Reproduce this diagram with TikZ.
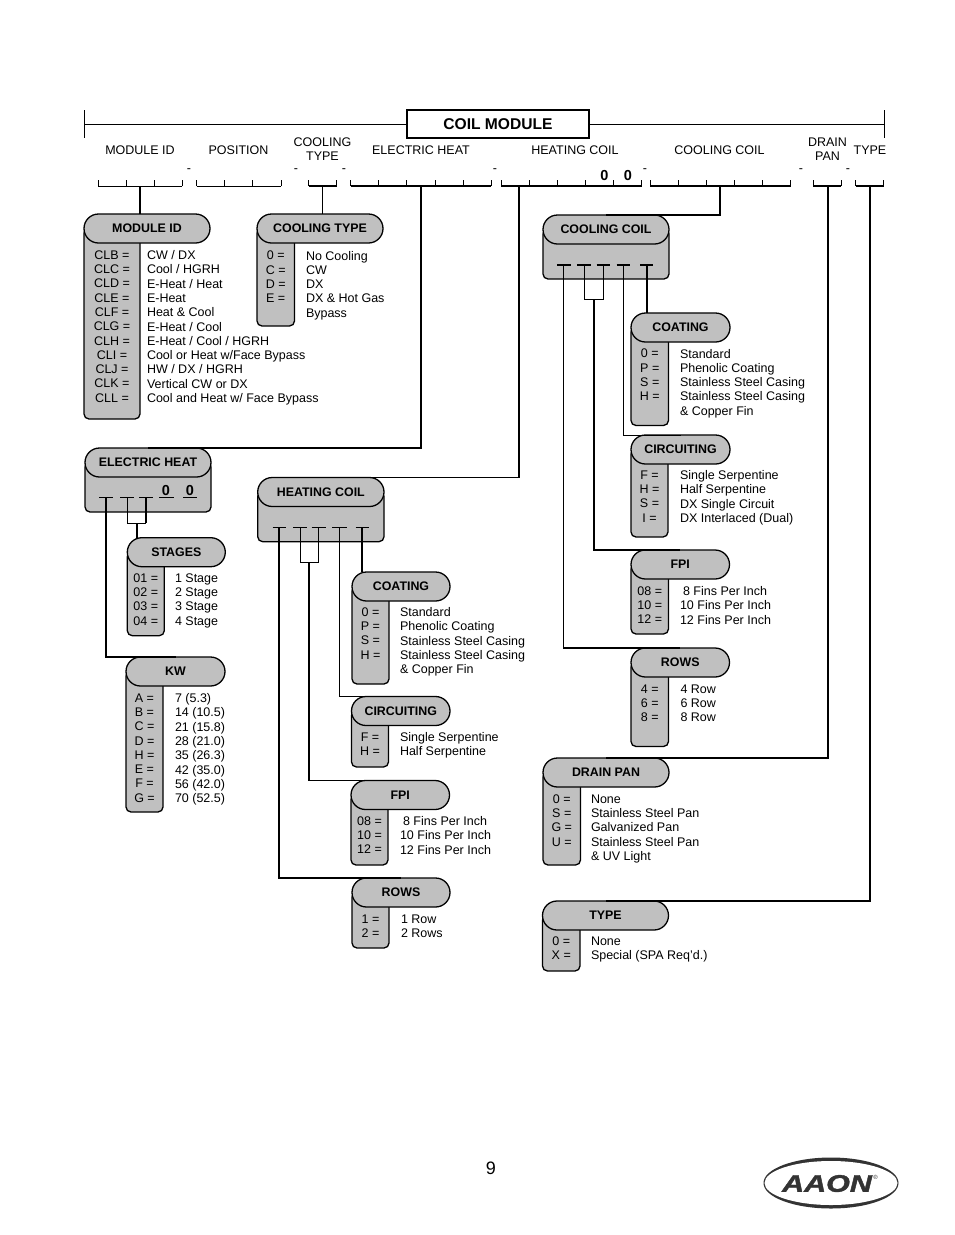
\documentclass[tikz,border=0pt]{standalone}
\usepackage{fontspec}
\setmainfont{Liberation Sans}
\usetikzlibrary{shapes.misc,calc}
\definecolor{pgray}{HTML}{C0C0C0}
\definecolor{logoink}{HTML}{333333}
\tikzset{
  x=1pt,y=-1pt,
  pillbox/.style={rounded rectangle,draw=black,fill=pgray,line width=1.3pt,inner sep=0pt,outer sep=0pt,
    font=\fontsize{12.4}{14}\bfseries\selectfont,anchor=center},
  bodybox/.style={rectangle,rounded corners=5pt,draw=black,fill=pgray,line width=1.3pt,inner sep=0pt,outer sep=0pt,anchor=north west},
  keytext/.style={inner sep=0pt,outer sep=0pt,align=center,anchor=north,font=\fontsize{12.5}{14.3}\selectfont},
  valtext/.style={inner sep=0pt,outer sep=0pt,align=left,anchor=north west,font=\fontsize{12.5}{14.3}\selectfont},
  toplabel/.style={inner sep=0pt,outer sep=0pt,align=center,font=\fontsize{12.5}{14.3}\selectfont},
  zerotext/.style={inner sep=0pt,outer sep=0pt,font=\fontsize{14.5}{16}\bfseries\selectfont},
  thinline/.style={line width=0.9pt,black},
  heavyline/.style={line width=1.7pt,black},
}
% id, x, y, pill width, body width, body bottom, title
\newcommand{\pillbody}[7]{%
  \node[bodybox,minimum width=#5pt,minimum height={(#6-#3-14)*1pt}] (#1-body) at (#2,#3+14) {};
  \node[pillbox,minimum width=#4pt,minimum height=29pt] (#1) at (#2+#4/2,#3+14.5) {#7};
}
% id, y of first line, x of values, keys, values
\newcommand{\codes}[5]{%
  \node[keytext] (#1-keys) at (#1-body.north |- 0,#2-4.5) {#4};
  \node[valtext] (#1-vals) at (#3,#2-4.5) {#5};
}
% x start, segments, style for the base line
\newcommand{\bracketline}[3]{%
  \draw[#3] (#1,186) -- ++(#2*28.1,0);
  \foreach \k in {0,...,#2} {\draw[thinline] (#1+\k*28.1,186) -- ++(0,-6.5);}
}
\begin{document}
\begin{tikzpicture}
\useasboundingbox (0,0) rectangle (954,1235);
\fill[white] (0,0) rectangle (954,1235);

% title bar
\node[draw=black,line width=2pt,minimum width=182pt,minimum height=28pt,inner sep=0pt,outer sep=0pt,
  font=\fontsize{15.6}{18}\bfseries\selectfont] (title) at (498,124) {COIL MODULE};
\coordinate (barL) at (84,124);
\coordinate (barR) at (884,124);
\draw[thinline] (barL) -- (title.west);
\draw[thinline] (title.east) -- (barR);
\draw[thinline] ($(barL)+(0,-14)$) -- ($(barL)+(0,14)$);
\draw[thinline] ($(barR)+(0,-14)$) -- ($(barR)+(0,14)$);

% field labels
\node[toplabel] (lab1) at (140,150) {MODULE ID};
\node[toplabel] (lab2) at (238.5,150) {POSITION};
\node[toplabel] (lab3) at (322.5,149) {COOLING\\TYPE};
\node[toplabel] (lab4) at (421,150) {ELECTRIC HEAT};
\node[toplabel] (lab5) at (575,150) {HEATING COIL};
\node[toplabel] (lab6) at (719.5,150) {COOLING COIL};
\node[toplabel] (lab7) at (827.5,149) {DRAIN\\PAN};
\node[toplabel] (lab8) at (870,150) {TYPE};

\foreach \nm/\xx in {d1/189,d2/296,d3/344,d4/495,d5/645,d6/801,d7/848}
  \node[toplabel] (\nm) at (\xx,171) {-};

% field brackets
\bracketline{98}{3}{thinline}
\bracketline{196.7}{3}{thinline}
\bracketline{308.7}{1}{heavyline}
\bracketline{350.7}{5}{heavyline}
\bracketline{501}{5}{heavyline}
\bracketline{650}{5}{heavyline}
\bracketline{813}{1}{heavyline}
\bracketline{855.8}{1}{heavyline}
\node[zerotext] (hz1) at (604.5,176) {0};
\node[zerotext] (hz2) at (628,176) {0};

% stem coordinates
\coordinate (sMod) at (140,186);
\coordinate (sCT) at (322.7,186);
\coordinate (sEH) at (421,186);
\coordinate (sHC) at (519,186);
\coordinate (sCC) at (720,186);
\coordinate (sDP) at (828,186);
\coordinate (sTY) at (870,186);

\pillbody{mod}{84}{214}{126}{56}{419}{MODULE ID}
\codes{mod}{255}{147}{CLB =\\CLC =\\CLD =\\CLE =\\CLF =\\CLG =\\CLH =\\CLI =\\CLJ =\\CLK =\\CLL =}
 {CW / DX\\Cool / HGRH\\E-Heat / Heat\\E-Heat\\Heat \& Cool\\E-Heat / Cool\\E-Heat / Cool / HGRH\\Cool or Heat w/Face Bypass\\HW / DX / HGRH\\Vertical CW or DX\\Cool and Heat w/ Face Bypass}
\draw[heavyline] (sMod) -- (mod.north -| sMod);

\pillbody{ct}{257}{214}{126}{37.5}{326}{COOLING TYPE}
\codes{ct}{255.5}{306}{0 =\\C =\\D =\\E =}{No Cooling\\CW\\DX\\DX \& Hot Gas\\Bypass}
\draw[thinline] (sCT) -- (ct.north -| sCT);

% electric heat
\pillbody{eh}{85}{448}{126}{126}{512}{ELECTRIC HEAT}
\draw[thinline,line width=1.2pt] (99.3,497.7) -- (112.7,497.7) (120,497.7) -- (134,497.7) (139.3,497.7) -- (153.3,497.7) (159.3,497.7) -- (174,497.7) (183.3,497.7) -- (197.3,497.7);
\node[zerotext] (ehz1) at (166,490) {0};
\node[zerotext] (ehz2) at (190,490) {0};
\coordinate (ehA) at (106,497.7);
\coordinate (ehB) at (127.3,497.7);
\coordinate (ehC) at (146,497.7);
\coordinate (ehU) at (136.7,523.3);

\pillbody{st}{127.3}{537.7}{98}{37}{635.7}{STAGES}
\codes{st}{578}{175}{01 =\\02 =\\03 =\\04 =}{1 Stage\\2 Stage\\3 Stage\\4 Stage}
\pillbody{kw}{126}{657}{99}{37}{812}{KW}
\codes{kw}{698}{175}{A =\\B =\\C =\\D =\\H =\\E =\\F =\\G =}{7 (5.3)\\14 (10.5)\\21 (15.8)\\28 (21.0)\\35 (26.3)\\42 (35.0)\\56 (42.0)\\70 (52.5)}
\draw[heavyline] (sEH) |- (eh.north);
\draw[thinline] (ehB) -- (ehB |- ehU) -- (ehC |- ehU);
\draw[heavyline] (ehC) -- (ehC |- ehU);
\draw[heavyline] (ehU) -- (st.north -| ehU);
\draw[heavyline] (ehA) |- (kw.north);

% heating coil
\pillbody{hc}{257.7}{477.5}{126.3}{126.3}{541.7}{HEATING COIL}
\draw[thinline,line width=1.2pt] (272.7,527.7) -- (286,527.7) (293.3,527.7) -- (306.7,527.7) (311.7,527.7) -- (325.7,527.7) (332.3,527.7) -- (346.7,527.7) (355.7,527.7) -- (369,527.7);
\coordinate (hcA) at (279.3,527.7);
\coordinate (hcB) at (300,527.7);
\coordinate (hcC) at (318.7,527.7);
\coordinate (hcD) at (339.3,527.7);
\coordinate (hcE) at (362.3,527.7);
\coordinate (hcU) at (309,562.3);

\pillbody{hco}{352}{572}{98}{37}{684}{COATING}
\codes{hco}{612}{400}{0 =\\P =\\S =\\H =}{Standard\\Phenolic Coating\\Stainless Steel Casing\\Stainless Steel Casing\\\& Copper Fin}
\pillbody{hci}{351.5}{696.5}{98.5}{37}{767}{CIRCUITING}
\codes{hci}{737}{400}{F =\\H =}{Single Serpentine\\Half Serpentine}
\pillbody{hfp}{351}{780.5}{98.5}{37}{865}{FPI}
\codes{hfp}{821}{400}{08 =\\10 =\\12 =}{\hspace*{3pt}8 Fins Per Inch\\10 Fins Per Inch\\12 Fins Per Inch}
\pillbody{hro}{352}{878}{98}{37}{948}{ROWS}
\codes{hro}{919}{401}{1 =\\2 =}{1 Row\\2 Rows}
\draw[thinline,line width=1.2pt] (sHC) |- (hc.north);
\draw[heavyline] (hcA) |- (hro.north);
\draw[thinline] (hcB) -- (hcB |- hcU) -- (hcC |- hcU) -- (hcC);
\draw[thinline,line width=1.2pt] (hcU) |- (hfp.north);
\draw[thinline,line width=1.2pt] (hcD) |- (hci.north);
\draw[heavyline] (hcE) -- (hco.north -| hcE);

% cooling coil
\pillbody{cc}{543}{215}{126}{126}{279}{COOLING COIL}
\draw[thinline,line width=1.2pt] (557.3,265) -- (570.7,265) (577.3,265) -- (590.7,265) (596.7,265) -- (610,265) (616.7,265) -- (630,265) (640,265) -- (653,265);
\coordinate (ccA) at (563.3,265);
\coordinate (ccB) at (584.3,265);
\coordinate (ccC) at (603.3,265);
\coordinate (ccD) at (623.3,265);
\coordinate (ccE) at (646.7,265);
\coordinate (ccU) at (594,299);

\pillbody{cco}{631}{313}{99}{37.5}{425.5}{COATING}
\codes{cco}{353.5}{680}{0 =\\P =\\S =\\H =}{Standard\\Phenolic Coating\\Stainless Steel Casing\\Stainless Steel Casing\\\& Copper Fin}
\pillbody{cci}{631}{435}{99}{37}{537}{CIRCUITING}
\codes{cci}{475}{680}{F =\\H =\\S =\\I =}{Single Serpentine\\Half Serpentine\\DX Single Circuit\\DX Interlaced (Dual)}
\pillbody{cfp}{631}{550}{98.5}{37.5}{634}{FPI}
\codes{cfp}{591}{680}{08 =\\10 =\\12 =}{\hspace*{3pt}8 Fins Per Inch\\10 Fins Per Inch\\12 Fins Per Inch}
\pillbody{cro}{631}{648}{98.5}{37.5}{746.5}{ROWS}
\codes{cro}{689}{680.5}{4 =\\6 =\\8 =}{4 Row\\6 Row\\8 Row}
\draw[thinline,line width=1.2pt] (sCC) |- (cc.north);
\draw[thinline,line width=1.2pt] (ccA) |- (cro.north);
\draw[thinline] (ccB) -- (ccB |- ccU) -- (ccC |- ccU) -- (ccC);
\draw[heavyline] (ccU) |- (cfp.north);
\draw[thinline] (ccD) |- (cci.north);
\draw[heavyline] (ccE) -- (cco.north -| ccE);

% drain pan and type
\pillbody{dp}{543}{758}{126}{37.5}{865}{DRAIN PAN}
\codes{dp}{799}{591}{0 =\\S =\\G =\\U =}{None\\Stainless Steel Pan\\Galvanized Pan\\Stainless Steel Pan\\\& UV Light}
\draw[heavyline] (sDP) |- (dp.north);
\pillbody{ty}{542.5}{901}{126}{37.5}{971}{TYPE}
\codes{ty}{941}{591}{0 =\\X =}{None\\Special (SPA Req'd.)}
\draw[heavyline] (sTY) |- (ty.north);

% page number
\node[inner sep=0pt,font=\fontsize{18}{20}\selectfont] (page) at (491,1168) {9};

% logo
\fill[logoink] (831,1183) ellipse [x radius=67.5,y radius=25.5];
\fill[white] (831,1183) ellipse [x radius=66.5,y radius=22];
\node[inner sep=0pt,xscale=1.27,font=\fontsize{24}{26}\bfseries\itshape\addfontfeatures{FakeBold=1.5}\selectfont,text=logoink] (logo) at (827,1183.5) {AAON};
\node[inner sep=0pt,font=\fontsize{6}{7}\selectfont,text=logoink] (logoR) at (875.5,1177) {®};
\end{tikzpicture}
\end{document}
